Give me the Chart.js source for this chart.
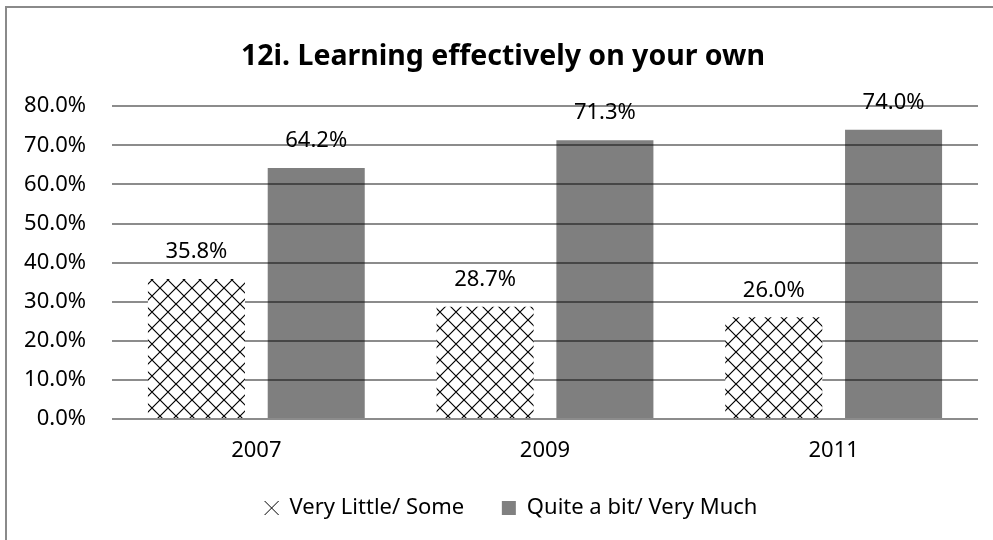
<!DOCTYPE html>
<html>
<head>
<meta charset="utf-8">
<script src="https://cdn.jsdelivr.net/npm/chart.js@4"></script>
<style>
  html, body { margin: 0; padding: 0; background: #fff; overflow: hidden; }
  canvas { display: block; }
</style>
</head>
<body>
<canvas id="chart" width="993" height="540"></canvas>
<script>
const years = ["2007", "2009", "2011"];
const veryLittle = [35.8, 28.7, 26.0];
const quiteABit = [64.2, 71.3, 74.0];
const seriesNames = ["Very Little/ Some", "Quite a bit/ Very Much"];
const yMax = 80;
const yStep = 10;

const FONT = "'Noto Sans', sans-serif";
const ctx = document.getElementById("chart").getContext("2d");

// crosshatch fill like the Excel pattern
function makeHatch() {
  const t = document.createElement("canvas");
  t.width = t.height = 16;
  const g = t.getContext("2d");
  g.fillStyle = "#fff";
  g.fillRect(0, 0, 16, 16);
  g.strokeStyle = "#000";
  g.lineWidth = 1.2;
  g.beginPath();
  g.moveTo(0, 0); g.lineTo(16, 16);
  g.moveTo(16, 0); g.lineTo(0, 16);
  g.stroke();
  return ctx.createPattern(t, "repeat");
}
const hatch = makeHatch();

// outer frame (left + top edges only) and box nudges
const frame = {
  id: "frame",
  afterLayout(chart) {
    chart.titleBlock.left += 14; chart.titleBlock.right += 14;
    chart.legend.left += 22; chart.legend.right += 22;
  },
  beforeDraw(chart) {
    const c = chart.ctx;
    c.save();
    c.strokeStyle = "#8a8a8a";
    c.lineWidth = 2;
    c.beginPath();
    c.moveTo(6, 540); c.lineTo(6, 7); c.lineTo(993, 7);
    c.stroke();
    c.restore();
  }
};

// value labels above bars
const valueLabels = {
  id: "valueLabels",
  afterDatasetsDraw(chart) {
    const c = chart.ctx;
    c.save();
    c.font = "22px " + FONT;
    c.fillStyle = "#000";
    c.textAlign = "center";
    c.textBaseline = "middle";
    chart.data.datasets.forEach((ds, i) => {
      chart.getDatasetMeta(i).data.forEach((bar, j) => {
        c.fillText(ds.data[j].toFixed(1) + "%", bar.x, bar.y - 27);
      });
    });
    c.restore();
  }
};

new Chart(ctx, {
  type: "bar",
  data: {
    labels: years,
    datasets: [
      {
        label: seriesNames[0],
        data: veryLittle,
        backgroundColor: hatch,
        borderWidth: 0,
        categoryPercentage: 0.83,
        barPercentage: 0.81
      },
      {
        label: seriesNames[1],
        data: quiteABit,
        backgroundColor: "rgba(0,0,0,0.5)",
        borderWidth: 0,
        categoryPercentage: 0.83,
        barPercentage: 0.81
      }
    ]
  },
  options: {
    responsive: false,
    animation: false,
    layout: { padding: { top: 28, left: 0, right: 15, bottom: 11 } },
    plugins: {
      title: {
        display: true,
        text: "12i. Learning effectively on your own",
        color: "#000",
        font: { family: FONT, size: 28.5, weight: "bold", lineHeight: 1.2 },
        padding: { top: 12, bottom: 32 }
      },
      legend: {
        position: "bottom",
        labels: {
          color: "#000",
          font: { family: FONT, size: 22 },
          usePointStyle: true,
          boxHeight: 14,
          boxWidth: 14,
          padding: 9,
          generateLabels(chart) {
            return [
              { text: seriesNames[0] + "\u00a0\u00a0\u00a0\u00a0\u00a0", pointStyle: "crossRot",
                fillStyle: "#000", strokeStyle: "#000", lineWidth: 1, datasetIndex: 0, fontColor: "#000" },
              { text: seriesNames[1], pointStyle: "rect",
                fillStyle: "#808080", strokeStyle: "#808080", lineWidth: 0, datasetIndex: 1, fontColor: "#000" }
            ];
          }
        }
      },
      tooltip: { enabled: false }
    },
    scales: {
      x: {
        grid: { display: false },
        border: { display: false },
        ticks: { color: "#000", font: { family: FONT, size: 22 }, padding: 11 },
        afterFit(scale) { scale.height = 69; }
      },
      y: {
        min: 0,
        max: yMax,
        grid: { color: "#8c8c8c", lineWidth: 2, drawTicks: false },
        border: { display: false },
        ticks: {
          stepSize: yStep,
          color: "#000",
          font: { family: FONT, size: 22 },
          padding: 26,
          callback: v => v.toFixed(1) + "%"
        },
        afterFit(scale) { scale.width = 112; }
      }
    }
  },
  plugins: [frame, valueLabels]
});
</script>
</body>
</html>
